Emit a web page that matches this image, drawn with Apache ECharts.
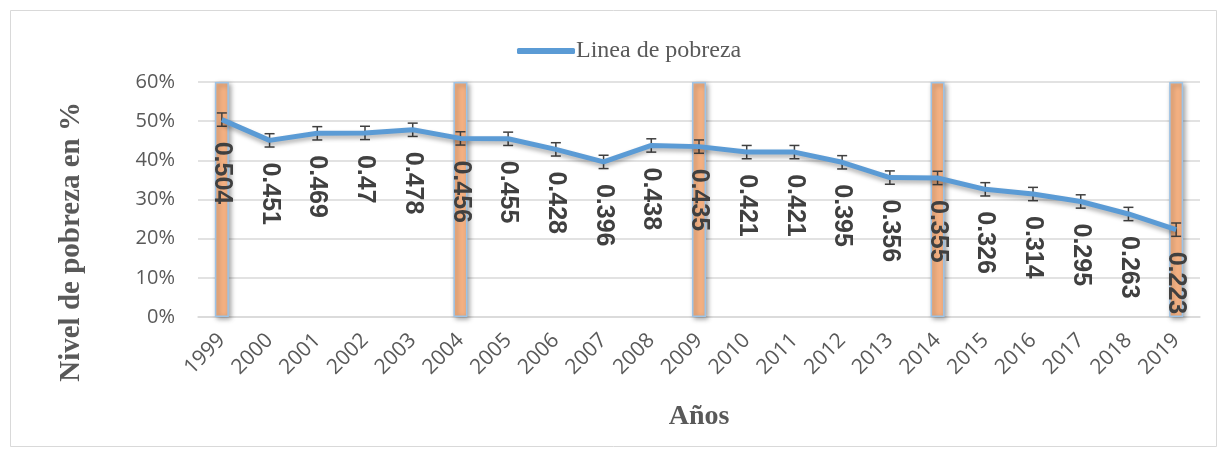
<!DOCTYPE html>
<html>
<head>
<meta charset="utf-8">
<script src="https://cdn.jsdelivr.net/npm/echarts@6/dist/echarts.min.js"></script>
<style>
  html, body { margin: 0; padding: 0; background: #fff; }
  #chart { width: 1227px; height: 457px; }
</style>
</head>
<body>
<div id="chart"></div>
<script>
// datos
var years = ['1999','2000','2001','2002','2003','2004','2005','2006','2007','2008',
             '2009','2010','2011','2012','2013','2014','2015','2016','2017','2018','2019'];
var pobreza = [0.504, 0.451, 0.469, 0.47, 0.478, 0.456, 0.455, 0.428, 0.396, 0.438,
               0.435, 0.421, 0.421, 0.395, 0.356, 0.355, 0.326, 0.314, 0.295, 0.263, 0.223];
// barras naranjas (años marcados cada 5)
var marcas = [0.6, null, null, null, null, 0.6, null, null, null, null,
              0.6, null, null, null, null, 0.6, null, null, null, null, 0.6];
var errorMargin = 0.017;

var chart = echarts.init(document.getElementById('chart'));

var errData = pobreza.map(function (v, i) { return [i, v - errorMargin, v + errorMargin]; });

var option = {
  animation: false,
  backgroundColor: '#fff',
  graphic: [{
    type: 'rect',
    shape: { x: 10.5, y: 10.5, width: 1206, height: 436 },
    style: { fill: 'none', stroke: '#d9d9d9', lineWidth: 1 },
    silent: true
  }, {
    type: 'text',
    left: 57, top: 102,
    rotation: Math.PI / 2,
    style: {
      text: 'Nivel de pobreza en %',
      font: 'bold 29px "Liberation Serif"',
      fill: '#595959'
    }
  }],
  legend: {
    data: [{ name: 'Linea de pobreza', icon: 'roundRect' }],
    top: 34,
    left: 512,
    itemWidth: 58,
    itemHeight: 6,
    itemGap: 4,
    textStyle: { fontFamily: 'Liberation Serif', fontSize: 24, color: '#595959', padding: [0, 0, 0, -4] }
  },
  grid: { left: 198, right: 27, top: 82, bottom: 140 },
  xAxis: {
    type: 'category',
    data: years,
    name: 'Años',
    nameLocation: 'middle',
    nameGap: 86,
    nameTextStyle: { fontFamily: 'Liberation Serif', fontWeight: 'bold', fontSize: 28, color: '#595959' },
    axisLine: { lineStyle: { color: '#d9d9d9', width: 1.5 } },
    axisTick: { show: false },
    axisLabel: {
      rotate: 45, color: '#595959', fontSize: 21, fontFamily: 'Open Sans', margin: 20, interval: 0
    }
  },
  yAxis: {
    type: 'value',
    min: 0, max: 0.6, interval: 0.1,
    axisLine: { show: false },
    axisTick: { show: false },
    splitLine: { lineStyle: { color: '#d9d9d9', width: 1.5 } },
    axisLabel: {
      color: '#595959', fontSize: 20, fontFamily: 'Open Sans', margin: 23,
      formatter: function (v) { return Math.round(v * 100) + '%'; }
    }
  },
  series: [{
    name: 'marcas',
    type: 'bar',
    data: marcas,
    barWidth: 14,
    z: 1,
    itemStyle: {
      color: '#F4B183',
      borderColor: '#9DC3E6',
      borderWidth: 1.5,
      shadowColor: 'rgba(0,0,0,0.35)',
      shadowBlur: 5,
      shadowOffsetX: 2,
      shadowOffsetY: 2
    }
  }, {
    name: 'Linea de pobreza',
    type: 'line',
    data: pobreza,
    z: 3,
    symbol: 'circle',
    symbolSize: 0.1,
    showSymbol: true,
    lineStyle: {
      color: '#5B9BD5', width: 5,
      shadowColor: 'rgba(0,0,0,0.3)', shadowBlur: 4, shadowOffsetY: 3
    },
    itemStyle: { color: '#5B9BD5' },
    label: {
      show: true,
      position: 'bottom',
      distance: 22,
      rotate: -90,
      align: 'left',
      verticalAlign: 'middle',
      fontFamily: 'Liberation Sans',
      fontWeight: 'bold',
      fontSize: 25,
      color: '#404040'
    },
    labelLayout: { hideOverlap: false }
  }, {
    name: 'error',
    type: 'custom',
    z: 2,
    data: errData,
    renderItem: function (params, api) {
      var x = api.value(0);
      var lo = api.coord([x, api.value(1)]);
      var hi = api.coord([x, api.value(2)]);
      var w = 5;
      var st = { stroke: '#404040', lineWidth: 1.5 };
      return {
        type: 'group',
        children: [
          { type: 'line', shape: { x1: lo[0], y1: lo[1], x2: hi[0], y2: hi[1] }, style: st },
          { type: 'line', shape: { x1: lo[0] - w, y1: lo[1], x2: lo[0] + w, y2: lo[1] }, style: st },
          { type: 'line', shape: { x1: hi[0] - w, y1: hi[1], x2: hi[0] + w, y2: hi[1] }, style: st }
        ]
      };
    }
  }]
};

chart.setOption(option);
</script>
</body>
</html>
